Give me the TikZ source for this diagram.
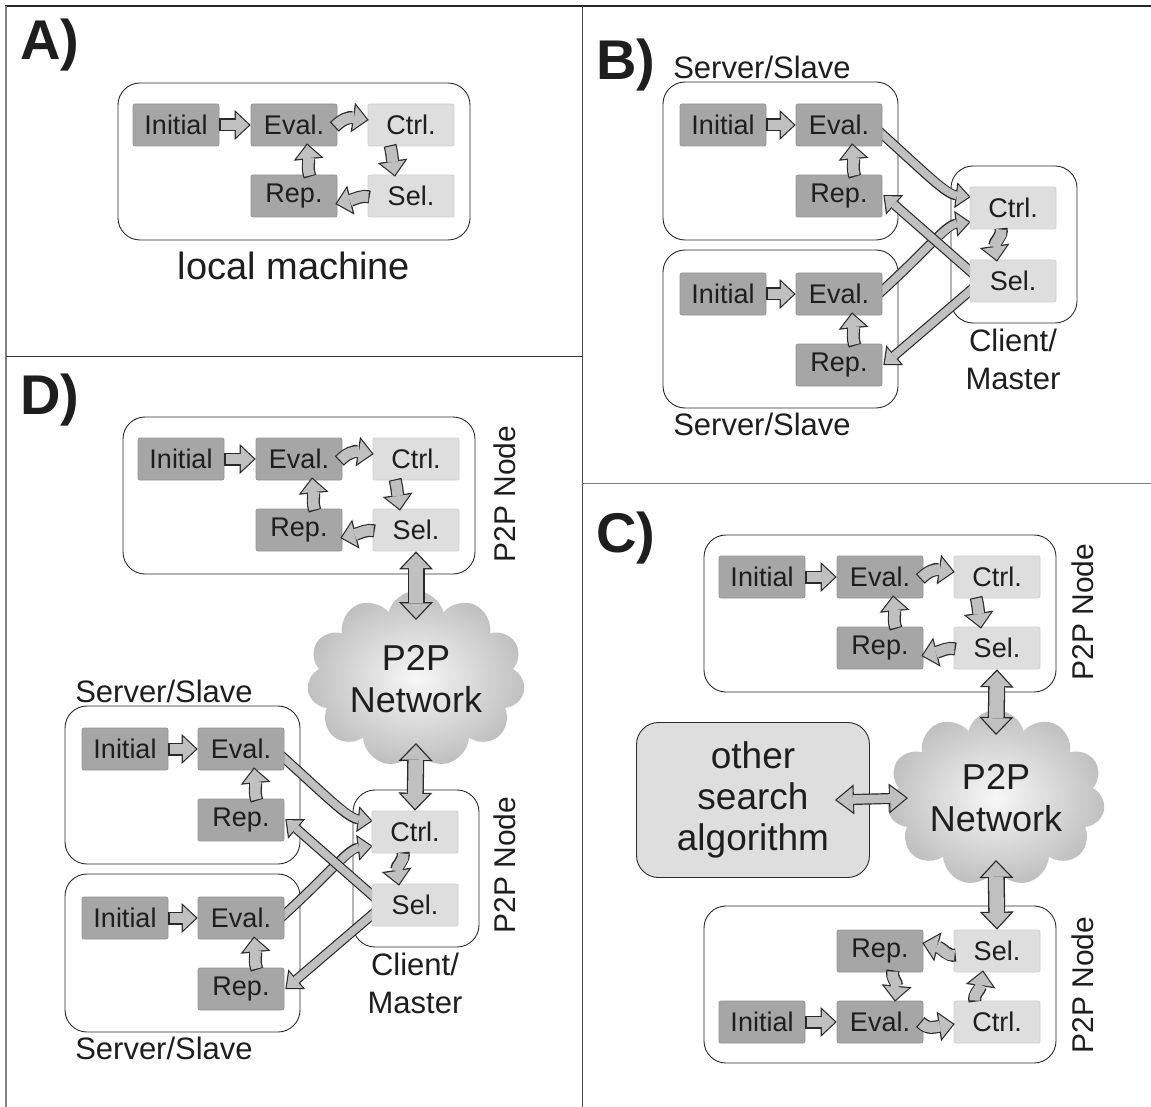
\documentclass[tikz,border=0pt]{standalone}
\usepackage{fontspec}
\setmainfont{Liberation Sans}
\usetikzlibrary{arrows.meta,shapes.symbols,calc}
\definecolor{dk}{HTML}{A6A6A6}
\definecolor{dkb}{HTML}{939393}
\definecolor{lt}{HTML}{DEDEDE}
\definecolor{ltb}{HTML}{CDCDCD}
\definecolor{aline}{HTML}{2A2A2A}
\definecolor{afill}{HTML}{C0C0C0}
\definecolor{txt}{HTML}{1E1E1E}
\pgfdeclarelayer{back}
\pgfdeclarelayer{mid}
\pgfsetlayers{back,mid,main}
\tikzset{
 box/.style={minimum width=86pt, minimum height=42pt, inner sep=0pt, rounded corners=2pt, font=\fontsize{27}{30}\selectfont, text=txt, line width=0.7pt},
 dbox/.style={box, fill=dk, draw=dkb},
 lbox/.style={box, fill=lt, draw=ltb},
 cont/.style={draw=aline, line width=0.9pt, rounded corners=22pt, inner sep=0pt},
 lab/.style={font=\fontsize{31}{38}\selectfont, text=txt, align=center, inner sep=0pt},
 plab/.style={font=\bfseries\fontsize{56}{60}\selectfont, text=txt, inner sep=0pt},
 cloudn/.style={cloud, cloud puffs=11, cloud ignores aspect, minimum width=218pt, minimum height=176pt, inner color=gray!6, outer color=gray!50, align=center, font=\fontsize{36}{42}\selectfont, text=txt},
 othn/.style={rounded corners=22pt, fill=lt, draw=aline, line width=0.9pt, minimum width=233pt, minimum height=155pt, align=center, font=\fontsize{37}{41}\selectfont, text=txt},
 smo/.style={line width=13pt, draw=aline, -{Triangle[length=16pt,width=30pt,line width=0pt]}},
 smi/.style={line width=10.6pt, draw=afill, -{Triangle[length=13pt,width=24.5pt,line width=0pt]}, shorten >=1.75pt, shorten <=1.2pt},
 lno/.style={line width=10pt, draw=aline, -{Triangle[length=15pt,width=26pt,line width=0pt]}},
 lni/.style={line width=7.6pt, draw=afill, -{Triangle[length=12pt,width=20.8pt,line width=0pt]}, shorten >=1.83pt, shorten <=1.2pt},
 dbo/.style={line width=17pt, draw=aline, {Triangle[length=18pt,width=34pt,line width=0pt]}-{Triangle[length=18pt,width=34pt,line width=0pt]}},
 dbi/.style={line width=14.4pt, draw=afill, {Triangle[length=14.8pt,width=28pt,line width=0pt]}-{Triangle[length=14.8pt,width=28pt,line width=0pt]}, shorten >=1.9pt, shorten <=1.9pt},
 dmo/.style={line width=11pt, draw=aline, {Triangle[length=19pt,width=30pt,line width=0pt]}-{Triangle[length=19pt,width=30pt,line width=0pt]}},
 dmi/.style={line width=8.6pt, draw=afill, {Triangle[length=15.9pt,width=25pt,line width=0pt]}-{Triangle[length=15.9pt,width=25pt,line width=0pt]}, shorten >=1.94pt, shorten <=1.94pt},
}
\newcommand\barr[2]{\draw[#1o] #2;\draw[#1i] #2;}
\newcommand\loopup[1]{%
 \begin{pgfonlayer}{back}
  \node[cont, minimum width=352pt, minimum height=157pt] (#1box) at (118,36.5) {};
 \end{pgfonlayer}
 \node[dbox] (#1i) at (0,0) {Initial};
 \node[dbox] (#1e) at (118,0) {Eval.};
 \node[lbox] (#1c) at (235,0) {Ctrl.};
 \node[dbox] (#1r) at (118,71) {Rep.};
 \node[lbox] (#1s) at (235,71) {Sel.};
 \barr{sm}{(#1i.east) -- (#1e.west)}
 \barr{sm}{($(#1e.east)+(-3,2)$) .. controls +(8,-8) and +(-20,-3) .. ($(#1c.west)+(1,-5)$)}
 \barr{sm}{($(#1c.south)+(-21,-1)$) .. controls +(2,8) and +(-3,-20) .. ($(#1s.north)+(-16,2)$)}
 \barr{sm}{($(#1s.west)+(2,1)$) .. controls +(-8,-2) and +(20,-5) .. ($(#1r.east)+(-2,8)$)}
 \barr{sm}{($(#1r.north)+(16,2)$) .. controls +(-3,-8) and +(2,20) .. ($(#1e.south)+(13,-3)$)}
}
\newcommand\loopdown[1]{%
 \begin{pgfonlayer}{back}
  \node[cont, minimum width=352pt, minimum height=157pt] (#1box) at (118,-37.5) {};
 \end{pgfonlayer}
 \node[dbox] (#1i) at (0,0) {Initial};
 \node[dbox] (#1e) at (118,0) {Eval.};
 \node[lbox] (#1c) at (235,0) {Ctrl.};
 \node[dbox] (#1r) at (118,-71) {Rep.};
 \node[lbox] (#1s) at (235,-71) {Sel.};
 \barr{sm}{(#1i.east) -- (#1e.west)}
 \barr{sm}{($(#1e.east)+(-3,0)$) .. controls +(8,8) and +(-20,3) .. ($(#1c.west)+(1,2)$)}
 \barr{sm}{($(#1c.north)+(-22,1)$) .. controls +(-2,-8) and +(-3,20) .. ($(#1s.south)+(-14,-2)$)}
 \barr{sm}{($(#1s.west)+(2,4)$) .. controls +(-8,2) and +(20,5) .. ($(#1r.east)+(-1,-8)$)}
 \barr{sm}{($(#1r.south)+(13,-2)$) .. controls +(-2,8) and +(2,-20) .. ($(#1e.north)+(15,1)$)}
}
\newcommand\cs[1]{%
 \begin{pgfonlayer}{back}
  \node[cont, minimum width=235pt, minimum height=158pt] (#1tbox) at (-58.5,36) {};
  \node[cont, minimum width=235pt, minimum height=158pt] (#1bbox) at (-58.5,204) {};
  \node[cont, minimum width=126pt, minimum height=157pt] (#1mbox) at (175,119.5) {};
 \end{pgfonlayer}
 \node[dbox] (#1ti) at (-116,0) {Initial};
 \node[dbox] (#1te) at (0,0) {Eval.};
 \node[dbox] (#1tr) at (0,71) {Rep.};
 \node[dbox] (#1bi) at (-116,169) {Initial};
 \node[dbox] (#1be) at (0,169) {Eval.};
 \node[dbox] (#1br) at (0,240) {Rep.};
 \node[lbox] (#1tc) at (174,83) {Ctrl.};
 \node[lbox] (#1ts) at (174,156) {Sel.};
 \node[lab] (#1la) at (-77,-58) {Server/Slave};
 \node[lab] (#1lb) at (-77,299) {Server/Slave};
 \node[lab] (#1lc) at (174,234) {Client/\\Master};
 \barr{sm}{(#1ti.east) -- (#1te.west)}
 \barr{sm}{(#1bi.east) -- (#1be.west)}
 \barr{sm}{($(#1tr.north)+(16,2)$) .. controls +(-3,-8) and +(2,20) .. ($(#1te.south)+(13,-3)$)}
 \barr{sm}{($(#1br.north)+(16,2)$) .. controls +(-3,-8) and +(2,20) .. ($(#1be.south)+(13,-3)$)}
 \barr{sm}{($(#1tc.south)+(-12,-1)$) .. controls +(2,8) and +(-3,-20) .. ($(#1ts.north)+(-16,2)$)}
 \begin{pgfonlayer}{mid}
  \barr{ln}{($(#1te.east)+(-6,4)$) .. controls +(50,45) and +(-25,-3) .. ($(#1tc.west)+(1,-11)$)}
  \barr{ln}{($(#1be.east)+(-6,2)$) .. controls +(50,-45) and +(-25,3) .. ($(#1tc.west)+(1,14)$)}
  \barr{ln}{($(#1ts.west)+(6,-5)$) -- ($(#1tr.east)+(1,-1)$)}
  \barr{ln}{($(#1ts.west)+(6,5)$) -- ($(#1br.east)+(1,0)$)}
 \end{pgfonlayer}
}
\begin{document}
\begin{tikzpicture}[x=1pt,y=-1pt]
\useasboundingbox (0,0) rectangle (1151,1107);
% frame lines
\draw[line width=1.3pt, draw=black!85] (5,6) -- (1151,6);
\draw[line width=1.2pt, draw=gray] (6,6) -- (6,1107);
\draw[line width=1pt, draw=black!70] (582,6) -- (582,1107);
\draw[line width=1pt, draw=black!80] (6,356) -- (582,356);
\draw[line width=1pt, draw=gray] (582,483) -- (1151,483);
% panel labels
\node[plab] (pa) at (50,45) {A)};
\node[plab] (pb) at (626,65) {B)};
\node[plab] (pc) at (626,538) {C)};
\node[plab] (pd) at (50,400) {D)};
% A
\begin{scope}[shift={(176,125)}]
 \loopup{la}
\end{scope}
\node[lab, font=\fontsize{38}{42}\selectfont] (lml) at (294,266) {local machine};
% B
\begin{scope}[shift={(839,125)}]
 \cs{sb}
\end{scope}
% D
\begin{scope}[shift={(181,459)}]
 \loopup{ld}
\end{scope}
\begin{scope}[shift={(241,749)}]
 \cs{sd}
\end{scope}
\node[cloudn] (dcl) at (416,679) {P2P\\Network};
\barr{db}{(lds.south) -- ($(dcl.center)+(0,-59)$)}
\barr{db}{($(dcl.center)+(0,64)$) -- (sdtc.north)}
\node[lab, rotate=90, font=\fontsize{30}{34}\selectfont] (pn1) at (505,494) {P2P Node};
\node[lab, rotate=90, font=\fontsize{30}{34}\selectfont] (pn2) at (505,865) {P2P Node};
% C
\begin{scope}[shift={(762,577)}]
 \loopup{lc}
\end{scope}
\begin{scope}[shift={(762,1022)}]
 \loopdown{lm}
\end{scope}
\node[cloudn] (ccl) at (996,798) {P2P\\Network};
\node[othn] (oth) at (753,800) {other\\search\\algorithm};
\barr{db}{(lcs.south) -- ($(ccl.center)+(0,-63)$)}
\barr{db}{($(ccl.center)+(0,62)$) -- (lms.north)}
\barr{dm}{($(oth.east)+(-35,0)$) -- ($(ccl.center)+(-88,0)$)}
\node[lab, rotate=90, font=\fontsize{30}{34}\selectfont] (pn3) at (1083,612) {P2P Node};
\node[lab, rotate=90, font=\fontsize{30}{34}\selectfont] (pn4) at (1083,985) {P2P Node};
\end{tikzpicture}
\end{document}
